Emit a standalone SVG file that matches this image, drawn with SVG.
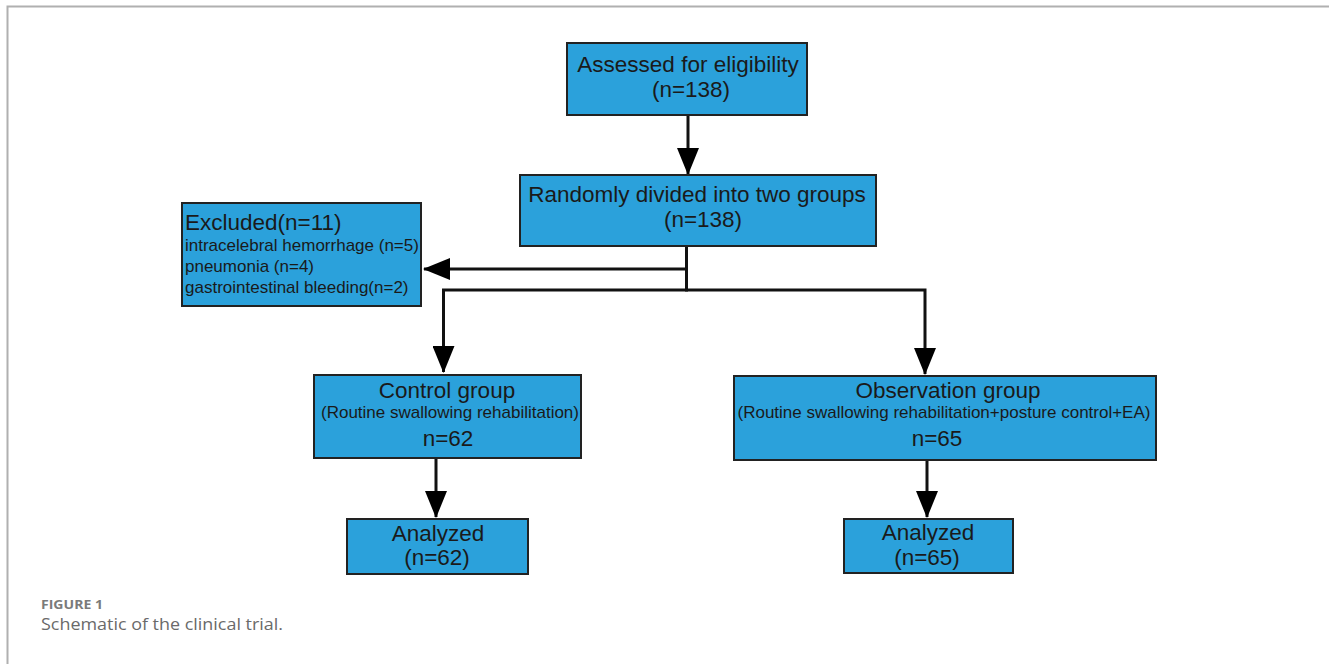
<svg xmlns="http://www.w3.org/2000/svg" width="1329" height="664" viewBox="0 0 1329 664">
<style>
.box{fill:#2ba1db;stroke:#222;stroke-width:2}
.t{font-family:"Liberation Sans",Arial,sans-serif;fill:#1a1a1a;text-anchor:middle}
.big{font-size:22.5px}
.sm{font-size:17px}
.conn{fill:none;stroke:#111;stroke-width:3}
.cap1{font-family:"Open Sans",Lato,sans-serif;font-size:12px;font-weight:bold;fill:#7a7a7a}
.cap2{font-family:"Open Sans",Lato,sans-serif;font-size:16.5px;fill:#6a6a6a}
</style>
<defs>
<marker id="ah" markerUnits="userSpaceOnUse" markerWidth="27" markerHeight="22" refX="26" refY="11" orient="auto" viewBox="0 0 27 22">
<path d="M0,0 L27,11 L0,22 z" fill="#000"/>
</marker>
</defs>
<rect x="0" y="0" width="1329" height="664" fill="#fff"/>
<path d="M7.5,664 V6.5 H1329" fill="none" stroke="#b0b0b0" stroke-width="2"/>

<g id="connectors">
<line class="conn" x1="688" y1="115" x2="688" y2="174" marker-end="url(#ah)"/>
<line class="conn" x1="686.5" y1="246" x2="686.5" y2="291.5"/>
<line class="conn" x1="686.5" y1="269" x2="424" y2="269" marker-end="url(#ah)"/>
<polyline class="conn" points="443.5,372 443.5,290 925,290 925,374" marker-end="url(#ah)"/>
<line class="conn" x1="443.5" y1="295" x2="443.5" y2="372" marker-end="url(#ah)"/>
<line class="conn" x1="436" y1="458" x2="436" y2="517" marker-end="url(#ah)"/>
<line class="conn" x1="927" y1="460" x2="927" y2="517" marker-end="url(#ah)"/>
</g>

<g id="assessed">
<rect class="box" x="567" y="43" width="240" height="72"/>
<text class="t big" x="688" y="72">Assessed for eligibility</text>
<text class="t big" x="691" y="97">(n=138)</text>
</g>

<g id="randomly">
<rect class="box" x="520" y="175" width="356" height="71"/>
<text class="t big" x="697" y="202">Randomly divided into two groups</text>
<text class="t big" x="703" y="227">(n=138)</text>
</g>

<g id="excluded">
<rect class="box" x="182" y="203" width="239" height="103"/>
<text class="t big" x="185" y="230" style="text-anchor:start">Excluded(n=11)</text>
<text class="t sm" x="185" y="251" style="text-anchor:start">intracelebral hemorrhage (n=5)</text>
<text class="t sm" x="185" y="272" style="text-anchor:start">pneumonia (n=4)</text>
<text class="t sm" x="185" y="293" style="text-anchor:start">gastrointestinal bleeding(n=2)</text>
</g>

<g id="control">
<rect class="box" x="314" y="375" width="267" height="83"/>
<text class="t big" x="447" y="398">Control group</text>
<text class="t sm" x="450" y="418">(Routine swallowing rehabilitation)</text>
<text class="t big" x="448" y="446">n=62</text>
</g>

<g id="observation">
<rect class="box" x="734" y="376" width="422" height="84"/>
<text class="t big" x="948" y="398">Observation group</text>
<text class="t sm" x="944" y="418">(Routine swallowing rehabilitation+posture control+EA)</text>
<text class="t big" x="937" y="446">n=65</text>
</g>

<g id="analyzed-left">
<rect class="box" x="347" y="519" width="181" height="55"/>
<text class="t big" x="438" y="541">Analyzed</text>
<text class="t big" x="437" y="565">(n=62)</text>
</g>

<g id="analyzed-right">
<rect class="box" x="844" y="519" width="169" height="54"/>
<text class="t big" x="928" y="540">Analyzed</text>
<text class="t big" x="927" y="565">(n=65)</text>
</g>

<g id="caption">
<text class="cap1" x="41" y="609" textLength="62" lengthAdjust="spacingAndGlyphs">FIGURE 1</text>
<text class="cap2" x="41" y="630" textLength="242" lengthAdjust="spacingAndGlyphs">Schematic of the clinical trial.</text>
</g>
</svg>
